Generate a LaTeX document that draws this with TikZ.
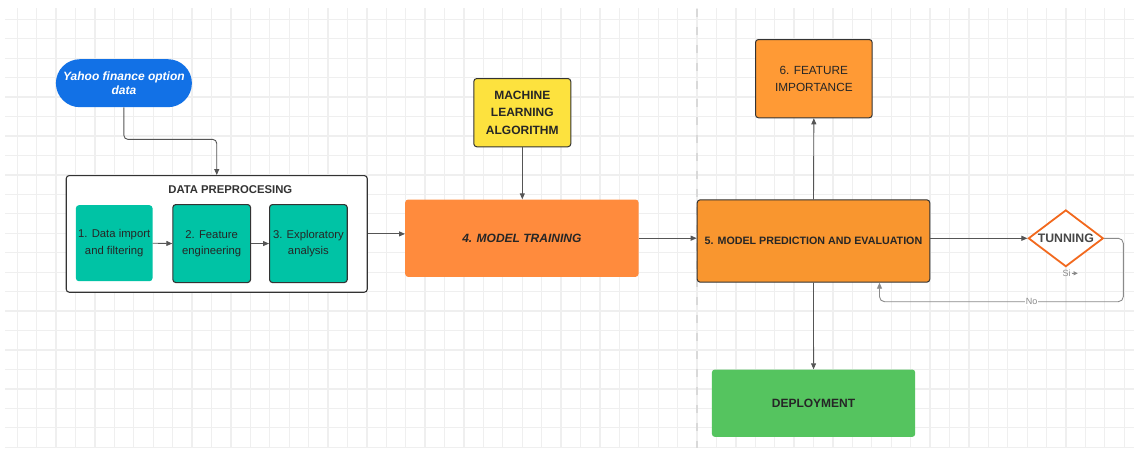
\documentclass[tikz,border=0pt]{standalone}
\usepackage{fontspec}
\setmainfont{Liberation Sans}
\usetikzlibrary{arrows.meta,shapes.geometric}
\definecolor{gridc}{HTML}{EFEFEF}
\definecolor{dashc}{HTML}{D9D9D9}
\definecolor{blueY}{HTML}{1271E6}
\definecolor{tealc}{HTML}{00C3A5}
\definecolor{yellowc}{HTML}{FDE23E}
\definecolor{trainc}{HTML}{FF8B3D}
\definecolor{predc}{HTML}{F9962F}
\definecolor{featc}{HTML}{FF9A35}
\definecolor{greenc}{HTML}{55C45F}
\definecolor{diamc}{HTML}{F2691E}
\definecolor{txt}{HTML}{262626}
\definecolor{linec}{HTML}{555555}
\definecolor{nolinec}{HTML}{8A8A8A}
\definecolor{bordc}{HTML}{333333}
\begin{document}
\begin{tikzpicture}[x=1pt,y=-1pt,
  box/.style={rectangle, rounded corners=3pt, inner sep=0pt, anchor=north west, align=center, text=txt},
  conn/.style={draw=linec, line width=0.9pt, -{Triangle[length=6pt,width=5pt]}},
  lbl/.style={font=\fontsize{9}{10}\selectfont, text=nolinec, inner sep=1pt},
  f12b/.style={font=\bfseries\fontsize{12}{17.5}\selectfont},
  f11/.style={font=\fontsize{11.3}{16.5}\selectfont}
]
\fill[white] (0,0) rectangle (1134,450);
\path[use as bounding box] (0,0) rectangle (1134,450);
% grid
\foreach \k in {0,...,57} \draw[gridc, line width=1.3pt] ({17.3+19.42*\k},8) -- ({17.3+19.42*\k},448);
\foreach \k in {0,...,22} \draw[gridc, line width=1.3pt] (5,{19.3+19.45*\k}) -- (1134,{19.3+19.45*\k});
% dashed separator
\draw[dashc, line width=2.5pt, dash pattern=on 8pt off 10pt] (697,9) -- (697,448);

% nodes
\node[box, fill=blueY, rounded corners=24pt, minimum width=136pt, minimum height=48pt, text=white,
      font=\bfseries\itshape\fontsize{12}{14.7}\selectfont] (yahoo) at (55.7,59) {Yahoo finance option\\data};

\node[box, draw=bordc, fill=white, line width=1.1pt, minimum width=301pt, minimum height=116.7pt] (pre) at (65.7,175) {};
\node[text=bordc, font=\bfseries\fontsize{11.3}{13}\selectfont, inner sep=0pt] (pretitle) at (230.3,190) {DATA PREPROCESING};

\node[box, fill=tealc, minimum width=76.6pt, minimum height=76pt, f11] (b1) at (75.7,205) {1. Data import\\and filtering};
\node[box, fill=tealc, draw=bordc, line width=1.1pt, minimum width=77.7pt, minimum height=78pt, f11] (b2) at (172.3,204) {2. Feature\\engineering};
\node[box, fill=tealc, draw=bordc, line width=1.1pt, minimum width=77.7pt, minimum height=78pt, f11] (b3) at (269,204) {3. Exploratory\\analysis};

\node[box, fill=yellowc, draw=bordc, line width=1pt, minimum width=97pt, minimum height=68.3pt, f12b] (ml) at (473.3,78) {MACHINE\\LEARNING\\ALGORITHM};

\node[box, fill=trainc, minimum width=233.3pt, minimum height=77.4pt,
      font=\bfseries\itshape\fontsize{12}{14.5}\selectfont] (train) at (405,199.3) {4. MODEL TRAINING};

\node[box, fill=predc, draw=bordc, line width=1pt, minimum width=232.6pt, minimum height=82.4pt,
      font=\bfseries\fontsize{10.7}{13}\selectfont] (pred) at (696.7,199.3) {5. MODEL PREDICTION AND EVALUATION};

\node[diamond, draw=diamc, line width=1.8pt, fill=white, aspect=1.32, inner sep=0pt,
      minimum width=75pt, minimum height=56.7pt, text=txt!85!white, font=\bfseries\fontsize{12.3}{14}\selectfont] (tun) at (1065.8,238.3) {TUNNING};

\node[box, fill=featc, draw=bordc, line width=1pt, minimum width=116.7pt, minimum height=78.3pt,
      font=\fontsize{11.8}{16.7}\selectfont] (feat) at (755,39) {6. FEATURE\\IMPORTANCE};

\node[box, fill=greenc, minimum width=203.3pt, minimum height=67.4pt, f12b] (dep) at (711.7,369.3) {DEPLOYMENT};

% connectors
\draw[conn, rounded corners=4pt] (yahoo.south) -- ++(0,32) -| (pre.north);
\draw[conn] (b1.east) -- (b2.west);
\draw[conn] (b2.east) -- (b3.west);
\draw[conn] (pre.east) -- (pre.east -| train.west);
\draw[conn] (ml.south) -- (ml.south |- train.north);
\draw[conn] (train.east) -- (train.east -| pred.west);
\draw[conn] (tun.west -| pred.east) -- (tun.west);
\draw[conn] (pred.north) -- (feat.south);
\draw[conn] (pred.south) -- (dep.north);

% Si label
\node[lbl] (si) at (1066.5,273.3) {Si};
\coordinate (siend) at ([xshift=6pt]si.east);
\draw[draw=nolinec, line width=0.6pt, -{Triangle[length=4pt,width=4pt]}] (si.east) -- (siend);

% No loop
\coordinate (loop) at (1123.3,301.7);
\draw[draw=nolinec, line width=0.9pt, rounded corners=5pt, -{Triangle[length=6pt,width=5pt]}]
  (tun.east) -| (loop) -| ([xshift=66pt]pred.south);
\node[lbl, fill=white] (no) at (1031.7,301.7) {No};
\end{tikzpicture}
\end{document}
